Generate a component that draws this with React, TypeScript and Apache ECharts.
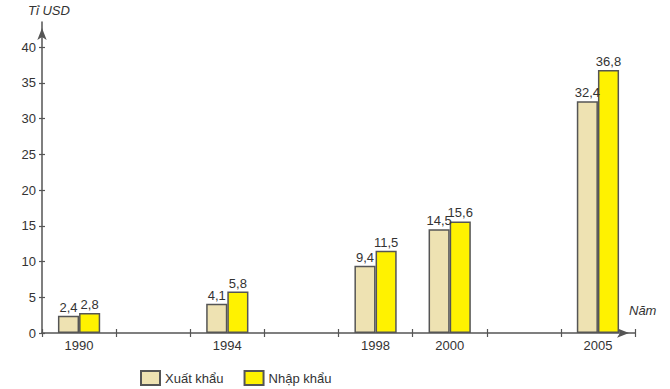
import React, { useEffect, useRef } from "react";
import * as echarts from "echarts";

const categories = ["1990", "", "1994", "", "1998", "2000", "", "2005"];
const exportValues = [2.4, null, 4.1, null, 9.4, 14.5, null, 32.4];
const importValues = [2.8, null, 5.8, null, 11.5, 15.6, null, 36.8];
const yTicks = [0, 5, 10, 15, 20, 25, 30, 35, 40];
const seriesNames = ["Xuất khẩu", "Nhập khẩu"];
const yTitle = "Tỉ USD";
const xTitle = "Năm";

const FONT = "'Liberation Sans', Arial, sans-serif";
const AXIS = "#555";

export default function App() {
  const ref = useRef<HTMLDivElement>(null);
  useEffect(() => {
    const chart = echarts.init(ref.current!, null, { renderer: "svg" });
    const fmt = (p: any) => String(p.value).replace(".", ",");
    const labelStyle = {
      show: true,
      position: "top",
      distance: 2,
      fontSize: 13,
      color: "#333",
      fontFamily: FONT,
      formatter: fmt,
    };
    chart.setOption({
      animation: false,
      textStyle: { fontFamily: FONT },
      grid: { left: 42, right: 35, top: 22, bottom: 56 },
      graphic: [
        {
          type: "text",
          left: 28,
          top: 4,
          style: { text: yTitle, font: `italic 13px ${FONT}`, fill: "#333" },
        },
        {
          type: "text",
          left: 629,
          top: 304,
          style: { text: xTitle, font: `italic 13px ${FONT}`, fill: "#333" },
        },
      ],
      legend: {
        left: 135,
        top: 365,
        icon: "rect",
        itemWidth: 19,
        itemHeight: 14,
        itemGap: 20,
        textStyle: { fontSize: 13, color: "#333", fontFamily: FONT },
        data: seriesNames,
      },
      xAxis: [
        {
          type: "category",
          position: "bottom",
          data: categories,
          axisLine: {
            lineStyle: { color: AXIS, width: 1.5 },
            symbol: ["none", "arrow"],
            symbolSize: [7, 12],
            symbolOffset: [0, -6],
          },
          axisTick: { show: true, interval: 0, length: 4, lineStyle: { color: AXIS, width: 1.2 } },
          axisLabel: { interval: 0, fontSize: 13, color: "#333", margin: 6, fontFamily: FONT },
        },
        {
          type: "category",
          position: "bottom",
          data: categories,
          axisLine: { show: false },
          axisTick: { show: true, interval: 0, inside: true, length: 4, lineStyle: { color: AXIS, width: 1.2 } },
          axisLabel: { show: false },
        },
      ],
      yAxis: [
        {
          type: "value",
          position: "left",
          min: 0,
          max: 43.5,
          splitLine: { show: false },
          axisLine: {
            show: true,
            lineStyle: { color: AXIS, width: 1.5 },
            symbol: ["none", "arrow"],
            symbolSize: [7, 12],
            symbolOffset: [0, -6],
          },
          axisTick: { show: true, length: 3, customValues: yTicks, lineStyle: { color: AXIS, width: 1.2 } },
          axisLabel: { fontSize: 13, color: "#333", margin: 6, customValues: yTicks, fontFamily: FONT },
        },
        {
          type: "value",
          position: "left",
          min: 0,
          max: 43.5,
          splitLine: { show: false },
          axisLine: { show: false },
          axisTick: { show: true, inside: true, length: 3, customValues: yTicks, lineStyle: { color: AXIS, width: 1.2 } },
          axisLabel: { show: false, customValues: yTicks },
        },
      ],
      series: [
        {
          name: seriesNames[0],
          type: "bar",
          data: exportValues,
          barGap: "0%",
          barCategoryGap: "43%",
          itemStyle: { color: "#EEE2B2", borderColor: "#555", borderWidth: 1.5 },
          label: labelStyle,
        },
        {
          name: seriesNames[1],
          type: "bar",
          data: importValues,
          barGap: "0%",
          barCategoryGap: "43%",
          itemStyle: { color: "#FFF200", borderColor: "#555", borderWidth: 1.5 },
          label: labelStyle,
        },
      ],
    });
    return () => chart.dispose();
  }, []);
  return <div ref={ref} style={{ width: 670, height: 389, position: "absolute", left: 0, top: 0 }} />;
}
